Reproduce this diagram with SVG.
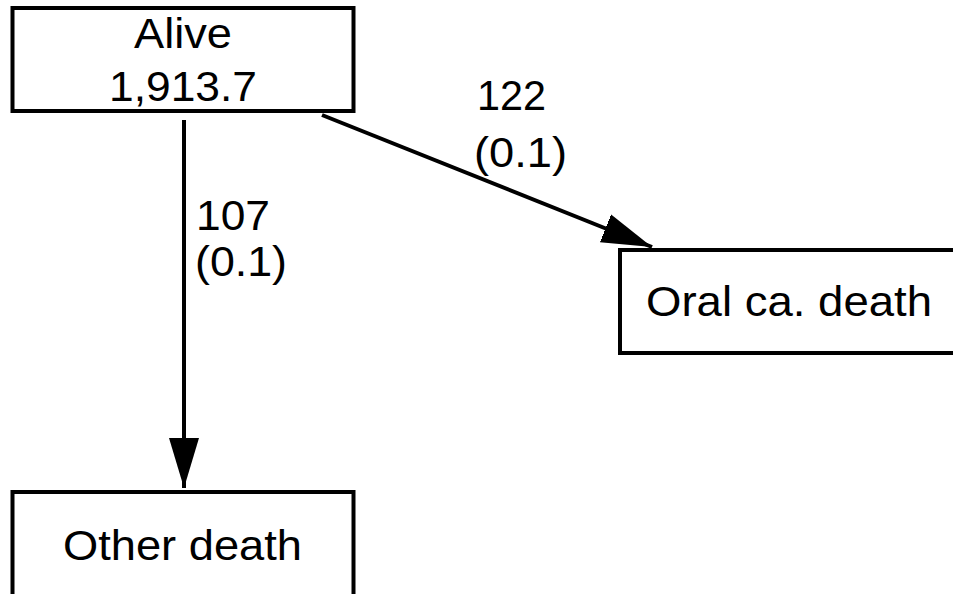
<svg xmlns="http://www.w3.org/2000/svg" width="953" height="594" viewBox="0 0 953 594">
<style>
.box{fill:#fff;stroke:#000;stroke-width:4}
.t{font-family:"Liberation Sans",Arial,sans-serif;font-size:42px;fill:#000}
.edge{stroke:#000;stroke-width:4;fill:none}
</style>
<defs>
<marker id="ah" markerUnits="userSpaceOnUse" markerWidth="52" markerHeight="32" refX="50" refY="16" orient="auto" viewBox="0 0 52 32">
<path d="M0,1 L50,16 L0,31 Q-3,16 0,1 Z" fill="#000"/>
</marker>
</defs>
<rect width="953" height="594" fill="#fff"/>
<g id="connectors">
<line class="edge" x1="184" y1="120" x2="184" y2="488" marker-end="url(#ah)"/>
<line class="edge" x1="322" y1="115" x2="652" y2="247" marker-end="url(#ah)"/>
<text class="t" x="196" y="230" textLength="74" lengthAdjust="spacingAndGlyphs">107</text>
<text class="t" x="195" y="276" textLength="92" lengthAdjust="spacingAndGlyphs">(0.1)</text>
<text class="t" x="477" y="110" textLength="69" lengthAdjust="spacingAndGlyphs">122</text>
<text class="t" x="474" y="167" textLength="93" lengthAdjust="spacingAndGlyphs">(0.1)</text>
</g>
<g id="alive">
<rect class="box" x="12.5" y="8" width="341" height="103"/>
<text class="t" x="134" y="48" textLength="98" lengthAdjust="spacingAndGlyphs">Alive</text>
<text class="t" x="109" y="101" textLength="148" lengthAdjust="spacingAndGlyphs">1,913.7</text>
</g>
<g id="oral">
<rect class="box" x="620" y="250" width="345" height="103"/>
<text class="t" x="646" y="316" textLength="286" lengthAdjust="spacingAndGlyphs">Oral ca. death</text>
</g>
<g id="other">
<rect class="box" x="12.5" y="492" width="341" height="110"/>
<text class="t" x="63" y="560" textLength="239" lengthAdjust="spacingAndGlyphs">Other death</text>
</g>
</svg>
